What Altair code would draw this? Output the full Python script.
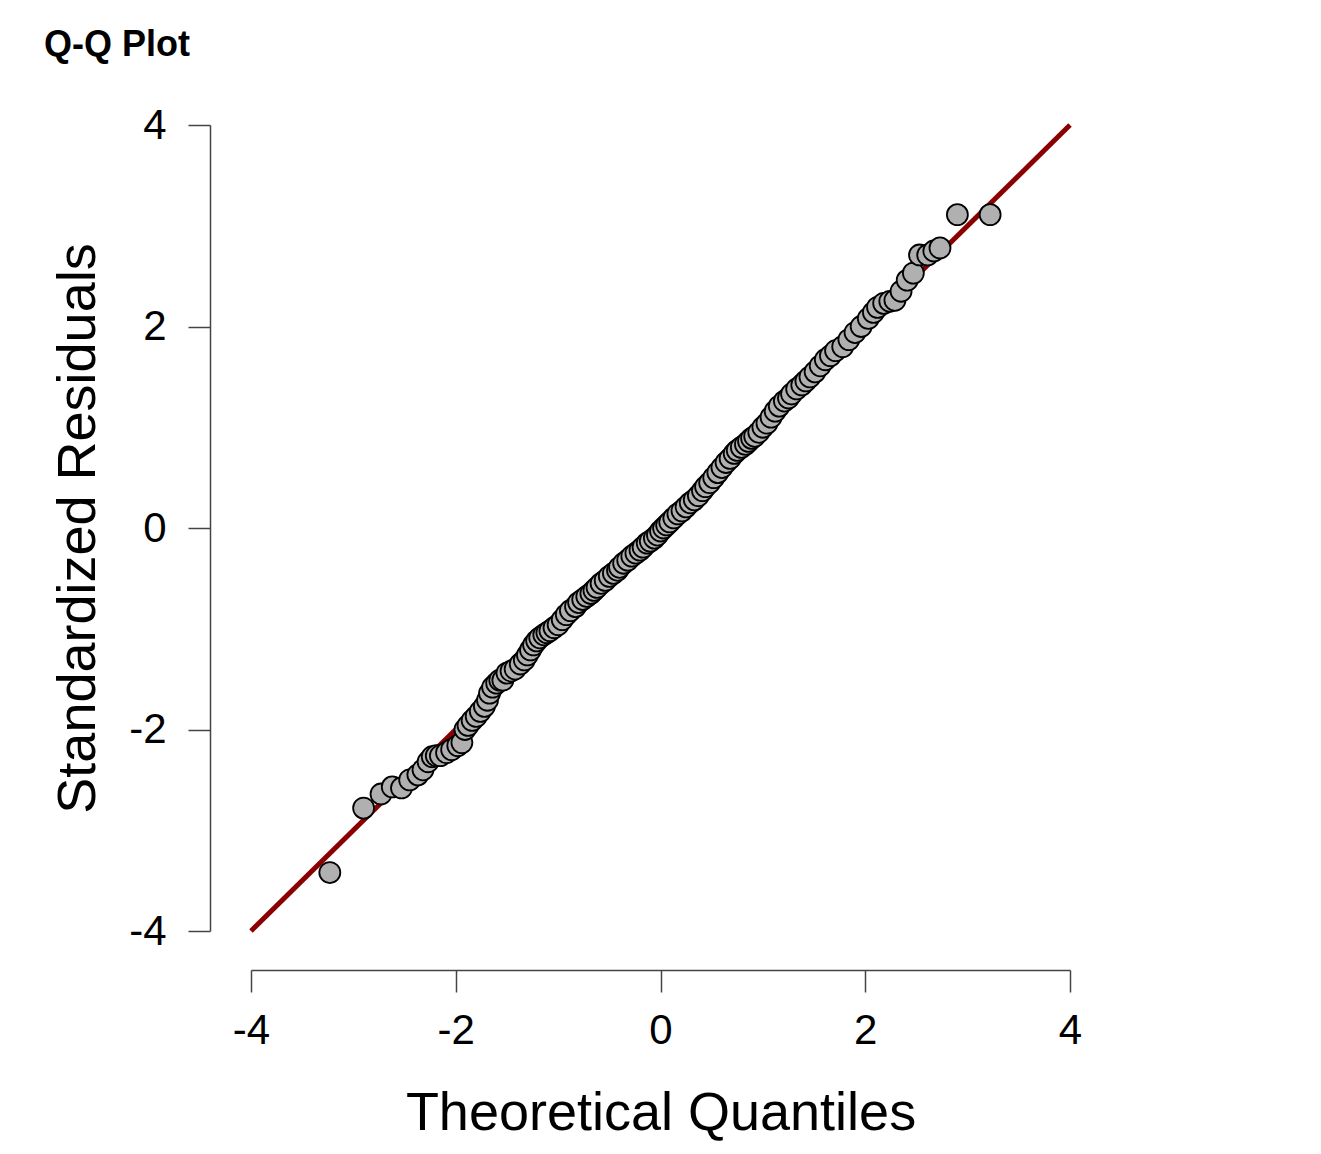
import altair as alt
import pandas as pd

theoretical = [
    -3.23, -2.90, -2.73, -2.62, -2.53, -2.45, -2.37, -2.32, -2.27, -2.23,
    -2.19, -2.15, -2.09, -2.04, -1.98, -1.94, -1.91, -1.88, -1.84, -1.80,
    -1.76, -1.72, -1.69, -1.67, -1.64, -1.60, -1.57, -1.54, -1.50, -1.46,
    -1.42, -1.37, -1.33, -1.30, -1.27, -1.24, -1.21, -1.18, -1.14, -1.11,
    -1.08, -1.04, -1.00, -0.96, -0.92, -0.88, -0.83, -0.80, -0.76, -0.72,
    -0.68, -0.65, -0.62, -0.58, -0.54, -0.50, -0.46, -0.42, -0.40, -0.36,
    -0.32, -0.28, -0.24, -0.20, -0.17, -0.13, -0.10, -0.06, -0.03, 0.00,
    0.03, 0.06, 0.09, 0.13, 0.17, 0.21, 0.25, 0.29, 0.33, 0.37,
    0.41, 0.44, 0.48, 0.52, 0.56, 0.60, 0.64, 0.68, 0.72, 0.75,
    0.79, 0.83, 0.86, 0.89, 0.92, 0.96, 1.00, 1.04, 1.08, 1.12,
    1.16, 1.21, 1.25, 1.28, 1.33, 1.38, 1.42, 1.46, 1.51, 1.56,
    1.61, 1.66, 1.71, 1.78, 1.84, 1.90, 1.96, 2.03, 2.08, 2.12,
    2.18, 2.24, 2.29, 2.35, 2.41, 2.47, 2.53, 2.61, 2.67, 2.73,
    2.90, 3.22,
]
residuals = [
    -3.42, -2.78, -2.64, -2.57, -2.58, -2.50, -2.45, -2.40, -2.32, -2.27,
    -2.26, -2.26, -2.23, -2.20, -2.16, -2.13, -2.00, -1.96, -1.91, -1.87,
    -1.82, -1.77, -1.71, -1.64, -1.58, -1.54, -1.51, -1.51, -1.44, -1.42,
    -1.40, -1.35, -1.31, -1.26, -1.21, -1.16, -1.12, -1.09, -1.06, -1.04,
    -1.02, -0.99, -0.96, -0.91, -0.86, -0.82, -0.78, -0.74, -0.71, -0.68,
    -0.65, -0.62, -0.59, -0.55, -0.52, -0.48, -0.45, -0.42, -0.39, -0.35,
    -0.32, -0.28, -0.25, -0.22, -0.19, -0.15, -0.13, -0.10, -0.07, -0.03,
    0.00, 0.03, 0.06, 0.10, 0.14, 0.17, 0.21, 0.25, 0.28, 0.32,
    0.37, 0.41, 0.45, 0.50, 0.55, 0.60, 0.65, 0.69, 0.74, 0.77,
    0.80, 0.83, 0.86, 0.89, 0.91, 0.95, 1.00, 1.04, 1.10, 1.16,
    1.21, 1.26, 1.29, 1.33, 1.38, 1.42, 1.46, 1.50, 1.55, 1.61,
    1.67, 1.71, 1.76, 1.80, 1.87, 1.94, 2.00, 2.08, 2.14, 2.19,
    2.23, 2.25, 2.26, 2.35, 2.46, 2.53, 2.71, 2.71, 2.75, 2.78,
    3.11, 3.11,
]
line_x = [-4, 4]
line_y = [-4, 4]
tick_values = [-4, -2, 0, 2, 4]

pts = pd.DataFrame({"q": theoretical, "r": residuals})
ln = pd.DataFrame({"q": line_x, "r": line_y})

FONT = "Liberation Sans"
xscale = alt.Scale(domain=[-4, 4], nice=False, zero=False)
yscale = alt.Scale(domain=[-4, 4], nice=False, zero=False)

common = dict(
    values=tick_values, tickSize=22, grid=False, labelExpr="'' + datum.value",
    labelFontSize=42, titleFontSize=54, titleFontWeight="normal",
    labelFont=FONT, titleFont=FONT, labelColor="black", titleColor="black",
    domainColor="#444444", tickColor="#444444", domainWidth=1.5, tickWidth=1.5,
    labelFlush=False, labelOverlap=False,
)
xaxis = alt.Axis(title="Theoretical Quantiles", offset=39, labelPadding=18,
                 titlePadding=35, **common)
yaxis = alt.Axis(title="Standardized Residuals", offset=41, labelPadding=22,
                 titlePadding=23, **common)

line = alt.Chart(ln).mark_line(color="#8b0000", strokeWidth=5, clip=False).encode(
    x=alt.X("q:Q", scale=xscale, axis=xaxis),
    y=alt.Y("r:Q", scale=yscale, axis=yaxis),
)
points = alt.Chart(pts).mark_point(
    shape="circle", filled=True, fill="#b0b0b0", stroke="black",
    strokeWidth=1.8, size=440, opacity=1, fillOpacity=1,
).encode(x="q:Q", y="r:Q")

chart = alt.layer(line, points).properties(
    width=819, height=806,
    title=alt.TitleParams(
        "Q-Q Plot", anchor="start", frame="group", dx=-207, fontSize=36,
        fontWeight="bold", font=FONT, color="black", offset=40,
    ),
    autosize=alt.AutoSizeParams(type="none"),
    padding={"left": 243, "top": 117, "right": 240, "bottom": 210},
).configure_view(stroke=None)

chart.save("out.html", embed_options={"renderer": "svg", "actions": False})
